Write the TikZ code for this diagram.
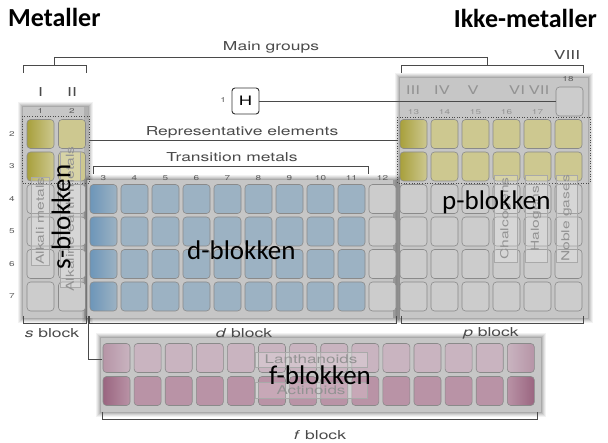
\documentclass[tikz,border=0pt]{standalone}
\usepackage{fontspec}
\setmainfont{TeX Gyre Heros}
\newfontfamily\lab[FakeStretch=1.42]{TeX Gyre Heros}
\newfontfamily\calib{Carlito}
\usetikzlibrary{calc}
\definecolor{panelgray}{HTML}{C6C6C6}
\definecolor{cellgray}{HTML}{CCCCCC}
\definecolor{cellline}{HTML}{8A8A8A}
\definecolor{yel}{HTML}{CDC890}
\definecolor{yeldark}{HTML}{A8A03C}
\definecolor{blu}{HTML}{9CB2C3}
\definecolor{bludark}{HTML}{6D96B9}
\definecolor{pinka}{HTML}{C9B4C0}
\definecolor{pinkb}{HTML}{B993A6}
\definecolor{pinkdark}{HTML}{9A6580}
\definecolor{ink}{HTML}{4A4A4A}
\definecolor{lightink}{HTML}{939393}
\tikzset{
  x=1pt, y=-1pt,
  cellbox/.style={draw=cellline, line width=0.6pt, rounded corners=3.5pt, minimum width=27pt, minimum height=29pt, inner sep=0pt},
  brk/.style={draw=ink, line width=0.8pt},
  dotbox/.style={draw=ink, dotted, line width=0.6pt},
  smalllab/.style={text=ink, font=\lab\fontsize{12.3}{12.3}\selectfont, inner sep=0pt},
  tinylab/.style={text=ink!90, font=\lab\fontsize{7}{7}\selectfont, inner sep=0pt},
  paletext/.style={text=lightink, font=\lab\fontsize{11}{11}\selectfont, inner sep=0pt},
  palebox/.style={draw=lightink!80, fill=white, fill opacity=0.2, line width=0.5pt, inner sep=2pt},
  bigtext/.style={text=black, font=\calib\fontsize{27}{27}\selectfont, inner sep=0pt},
  headtext/.style={text=black, font=\calib\bfseries\fontsize{26}{26}\selectfont, inner sep=0pt},
  leftyel/.style={left color=yeldark, middle color=yel, right color=yel},
  leftblu/.style={left color=bludark, middle color=blu, right color=blu},
}
\newcommand{\panelshadow}[4]{%
  \foreach \o/\a in {5/0.05,4/0.06,3/0.07,2/0.09,1/0.11}
    \fill[black, opacity=\a] (#1-\o,#2-\o) rectangle (#3+\o,#4+\o);
  \fill[panelgray] (#1,#2) rectangle (#3,#4);
}
\begin{document}
\begin{tikzpicture}
\useasboundingbox (0,0) rectangle (608,443);
\fill[white] (0,0) rectangle (608,443);

% panels
\panelshadow{23}{107}{88}{318}
\panelshadow{87}{180}{397}{318}
\panelshadow{400}{78}{588}{318}
\panelshadow{101}{338}{541}{412}
\fill[black, opacity=0.22] (393,180) rectangle (397,318);
\fill[black, opacity=0.10] (84,107) rectangle (88,318);

% s block cells
\foreach \r in {2,...,7}{
  \pgfmathsetmacro\cy{101.5+(\r-1)*32.5}
  \ifnum\r<4
    \node[cellbox, leftyel] (c\r-1) at (40.5,\cy) {};
    \node[cellbox, fill=yel] (c\r-2) at (72,\cy) {};
  \else
    \node[cellbox, fill=cellgray] (c\r-1) at (40.5,\cy) {};
    \node[cellbox, fill=cellgray] (c\r-2) at (72,\cy) {};
  \fi
}
% d block cells
\foreach \k in {3,...,12}{
  \pgfmathsetmacro\cx{103.5+(\k-3)*31}
  \foreach \r in {4,...,7}{
    \pgfmathsetmacro\cy{101.5+(\r-1)*32.5}
    \ifnum\k=12
      \node[cellbox, fill=cellgray] (c\r-\k) at (\cx,\cy) {};
    \else\ifnum\k=3
      \node[cellbox, leftblu] (c\r-\k) at (\cx,\cy) {};
    \else
      \node[cellbox, fill=blu] (c\r-\k) at (\cx,\cy) {};
    \fi\fi
  }
}
% p block cells
\foreach \k in {13,...,18}{
  \pgfmathsetmacro\cx{103.5+(\k-3)*31}
  \foreach \r in {2,...,7}{
    \pgfmathsetmacro\cy{101.5+(\r-1)*32.5}
    \ifnum\r<4
      \ifnum\k=13
        \node[cellbox, leftyel] (c\r-\k) at (\cx,\cy) {};
      \else
        \node[cellbox, fill=yel] (c\r-\k) at (\cx,\cy) {};
      \fi
    \else
      \node[cellbox, fill=cellgray] (c\r-\k) at (\cx,\cy) {};
    \fi
  }
}
\node[cellbox, fill=cellgray] (c1-18) at (569.5,101.5) {};
% f block cells
\foreach \i in {1,...,14}{
  \pgfmathsetmacro\cx{116.5+(\i-1)*31.1}
  \ifnum\i=1
    \node[cellbox, left color=pinkdark!40!pinka, middle color=pinka, right color=pinka] (fa-\i) at (\cx,358) {};
    \node[cellbox, left color=pinkdark, middle color=pinkb, right color=pinkb] (fb-\i) at (\cx,391) {};
  \else\ifnum\i=14
    \node[cellbox, right color=pinkdark!40!pinka, middle color=pinka, left color=pinka] (fa-\i) at (\cx,358) {};
    \node[cellbox, right color=pinkdark, middle color=pinkb, left color=pinkb] (fb-\i) at (\cx,391) {};
  \else
    \node[cellbox, fill=pinka] (fa-\i) at (\cx,358) {};
    \node[cellbox, fill=pinkb] (fb-\i) at (\cx,391) {};
  \fi\fi
}

% hydrogen
\node[draw=black!80, line width=0.9pt, rounded corners=3pt, fill=white, minimum width=27pt, minimum height=26pt, inner sep=0pt, font=\lab\fontsize{13}{13}\selectfont] (H) at (245.5,101) {H};
\node[tinylab, anchor=east] (n1) at (226,100) {1};
\draw[brk] (H.east) -- (c1-18.west |- H.east);

% dotted boxes
\draw[dotbox] (22,116) rectangle (89,183);
\draw[dotbox] (397,117) rectangle (590,183);
\coordinate (repL) at (89,140.5);
\coordinate (repR) at (397,140.5);
\draw[brk] (repL) -- (repR);

% main groups bracket
\coordinate (mgL) at (54.5,57);
\coordinate (mgR) at (487,57);
\draw[brk] (mgL) -- (mgR);
\draw[brk] (mgL) -- (54.5,65);
\draw[brk] (mgR) -- (487,65);
\draw[brk] (23,73) -- (23,65) -- (86,65) -- (86,73);
\draw[brk] (401,73) -- (401,65) -- (583,65) -- (583,73);
\node[smalllab] (mg) at (271,47) {Main groups};
\node[smalllab] (g1) at (40.5,92) {I};
\node[smalllab] (g2) at (72,92) {II};
\node[smalllab] (g8) at (567,55) {VIII};
\node[tinylab] (n18) at (568,79) {18};
\foreach \t/\xx in {III/413,IV/442,V/473,VI/517,VII/539}
  \node[paletext, font=\lab\fontsize{12}{12}\selectfont] (rn\t) at (\xx,90) {\t};
\foreach \k in {13,...,17}{
  \pgfmathsetmacro\cx{103.5+(\k-3)*31+10}
  \node[tinylab, text=lightink] (cn\k) at (\cx-10,112) {\k};
}
\node[tinylab] (cn1) at (40.5,111) {1};
\node[tinylab] (cn2) at (72,111) {2};
\foreach \r in {2,...,7}{
  \pgfmathsetmacro\cy{101.5+(\r-1)*32.5}
  \node[tinylab] (rn\r) at (12,\cy) {\r};
}
\foreach \k in {3,...,12}{
  \pgfmathsetmacro\cx{103.5+(\k-3)*31}
  \node[tinylab] (dn\k) at (\cx,178) {\k};
}

% representative / transition
\node[smalllab] (rep) at (242,132) {Representative elements};
\node[smalllab] (tm) at (232,157) {Transition metals};
\draw[brk] (93.5,174) -- (93.5,166) -- (368,166) -- (368,174);

% bottom brackets
\draw[brk] (23,316) -- (23,323) -- (86,323) -- (86,316);
\draw[brk] (89,316) -- (89,323) -- (396,323) -- (396,316);
\draw[brk] (401,316) -- (401,323) -- (583,323) -- (583,316);
\draw[brk] (102,412) -- (102,419) -- (537,419) -- (537,412);
\coordinate (fjoin) at (88,316);
\draw[brk] (fjoin) -- (88,359) -- (102,359);
\node[smalllab] (sb) at (52,333) {\textit{s} block};
\node[smalllab] (db) at (244,333) {\textit{d} block};
\node[smalllab] (pb) at (491,333) {\textit{p} block};
\node[smalllab] (fb) at (320,435) {\textit{f} block};

% pale group labels
\node[palebox, rotate=90, minimum width=88pt, minimum height=18pt] (alk) at (40,221) {};
\node[paletext, rotate=90] (alkt) at (40,221) {Alkali metals};
\node[palebox, rotate=90, minimum width=136pt, minimum height=20pt] (ae) at (70,219) {};
\node[paletext, rotate=90] (aet) at (70,219) {Alkaline earth metals};
\node[palebox, rotate=90, minimum width=87pt, minimum height=23pt] (ch) at (505.5,218.5) {};
\node[paletext, rotate=90] (cht) at (505.5,218.5) {Chalcogens};
\node[palebox, rotate=90, minimum width=87pt, minimum height=22pt] (ha) at (536,218.5) {};
\node[paletext, rotate=90] (hat) at (536,218.5) {Halogens};
\node[palebox, rotate=90, minimum width=87pt, minimum height=21pt] (ng) at (566.5,218.5) {};
\node[paletext, rotate=90] (ngt) at (566.5,218.5) {Noble gases};
\node[palebox, minimum width=112pt, minimum height=15pt] (lan) at (311,359.5) {};
\node[paletext, font=\lab\fontsize{12}{12}\selectfont] (lant) at (311,359.5) {Lanthanoids};
\node[palebox, minimum width=112pt, minimum height=16pt] (act) at (311,390) {};
\node[paletext, font=\lab\fontsize{12}{12}\selectfont] (actt) at (311,390) {Actinoids};

% big labels
\node[headtext, anchor=base west] (met) at (8,27) {Metaller};
\node[headtext, anchor=base east] (ikke) at (597,28) {Ikke-metaller};
\node[bigtext, rotate=90] (sbl) at (61,217) {s-blokken};
\node[bigtext, anchor=base west] (dbl) at (187,260) {d-blokken};
\node[bigtext, anchor=base west] (pbl) at (442,210) {p-blokken};
\node[bigtext, anchor=base west] (fbl) at (269,385) {f-blokken};
\end{tikzpicture}
\end{document}
